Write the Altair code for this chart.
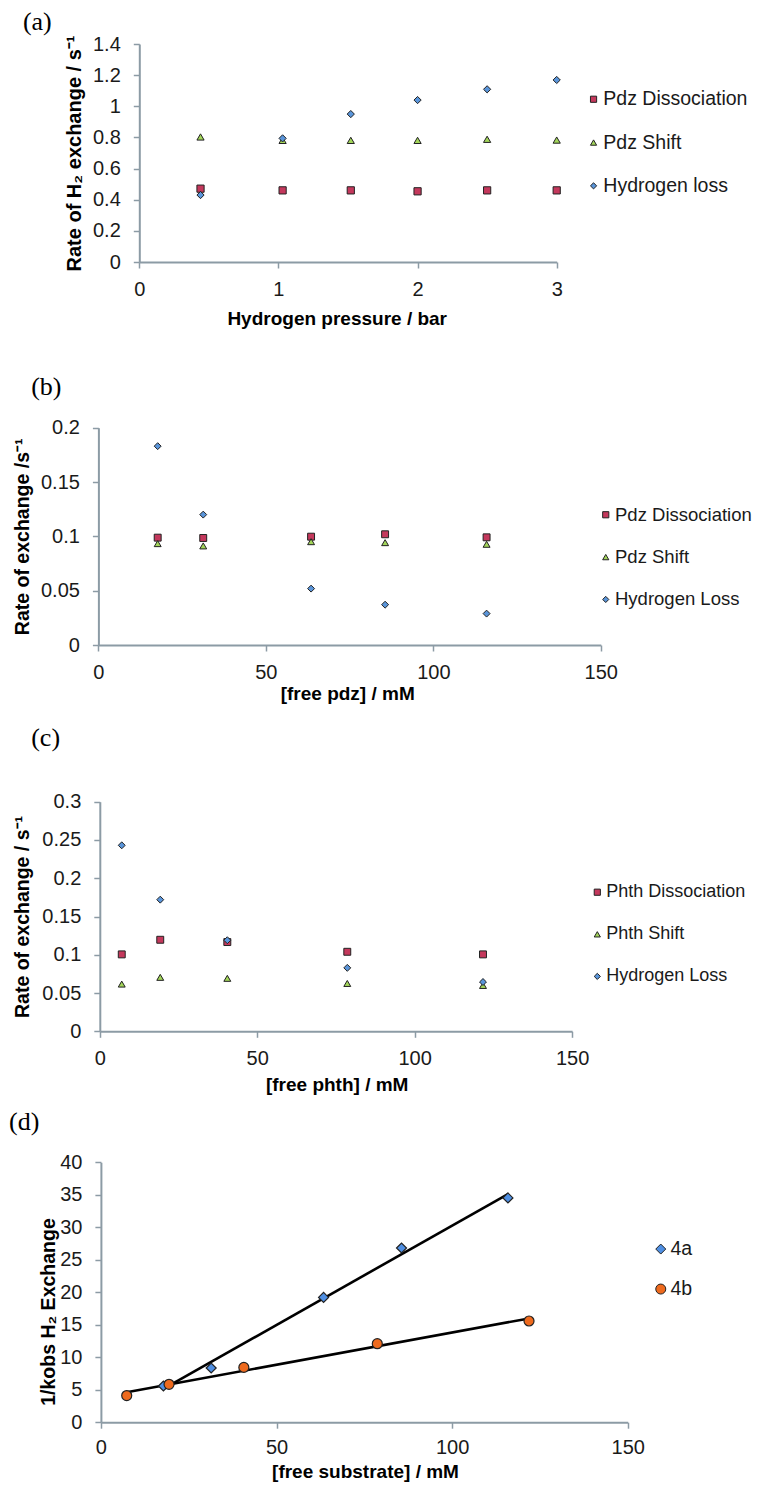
import altair as alt
import pandas as pd

# ---------------- data ----------------
# (a)
a_pressure = [0.44, 1.03, 1.52, 2.0, 2.5, 3.0]
a_dissociation = [0.471, 0.460, 0.460, 0.454, 0.460, 0.460]
a_shift = [0.803, 0.781, 0.781, 0.781, 0.788, 0.783]
a_hloss = [0.430, 0.794, 0.950, 1.040, 1.109, 1.169]
a_series = ["Pdz Dissociation", "Pdz Shift", "Hydrogen loss"]
a_yticks = [0, 0.2, 0.4, 0.6, 0.8, 1, 1.2, 1.4]
a_xticks = [0, 1, 2, 3]

# (b)
b_conc = [17.7, 31.3, 63.5, 85.6, 115.9]
b_dissociation = [0.0988, 0.0985, 0.0997, 0.1019, 0.0991]
b_shift = [0.0933, 0.0912, 0.0951, 0.0942, 0.0927]
b_hloss = [0.183, 0.120, 0.0519, 0.0371, 0.0289]
b_series = ["Pdz Dissociation", "Pdz Shift", "Hydrogen Loss"]
b_yticks = [0, 0.05, 0.1, 0.15, 0.2]
b_xticks = [0, 50, 100, 150]

# (c)
c_conc = [6.97, 19.2, 40.5, 78.6, 121.7]
c_dissociation = [0.1005, 0.1196, 0.1166, 0.1039, 0.1005]
c_shift = [0.0617, 0.0705, 0.0692, 0.0625, 0.0599]
c_hloss = [0.243, 0.172, 0.119, 0.0829, 0.0644]
c_series = ["Phth Dissociation", "Phth Shift", "Hydrogen Loss"]
c_yticks = [0, 0.05, 0.1, 0.15, 0.2, 0.25, 0.3]
c_xticks = [0, 50, 100, 150]

# (d)
d_conc_4a = [17.8, 31.4, 63.4, 85.6, 115.9]
d_inv_4a = [5.57, 8.34, 19.2, 26.8, 34.5]
d_conc_4b = [7.35, 19.4, 40.7, 78.7, 121.9]
d_inv_4b = [4.1, 5.83, 8.43, 12.08, 15.57]
d_series = ["4a", "4b"]
d_yticks = [0, 5, 10, 15, 20, 25, 30, 35, 40]
d_xticks = [0, 50, 100, 150]

# ---------------- style ----------------
FONT = "Liberation Sans, Arial, sans-serif"
SERIF = "Liberation Serif, Times New Roman, serif"
AXIS_COLOR = "#8c9ba5"
TEXT_COLOR = "#1a1a1a"
CELL_W = 730
ABC_COLORS = ["#c4385c", "#a3d65a", "#5a95da"]
ABC_SHAPES = ["square", "triangle-up", "diamond"]


def long_df(xs_list, ys_list, names):
    rows = []
    for xs, ys, name in zip(xs_list, ys_list, names):
        for x, y in zip(xs, ys):
            rows.append({"x": x, "y": y, "series": name})
    return pd.DataFrame(rows)


def axis_common(**kw):
    base = dict(
        grid=False, labelFlush=False, labelOverlap=False,
        domainColor=AXIS_COLOR, domainWidth=2, tickColor=AXIS_COLOR,
        tickWidth=1.5, tickSize=6, labelFont=FONT, labelFontSize=20,
        labelColor=TEXT_COLOR, titleFont=FONT, titleFontWeight="bold",
        titleColor="#000000",
    )
    base.update(kw)
    return alt.Axis(**base)


def panel(df, names, shapes, colors, msize, lsize, swidth, xdom, ydom,
          xticks, yticks, xfmt, yfmt, box, cell_h, xtitle, xt_pos, xlab_pad,
          ytitle, yt_pos, yt_size, label, lab_pos, leg_pos, leg_font,
          row_pad, lab_off, regression=False):
    x0, x1, y0, y1 = box
    xaxis = axis_common(values=xticks, format=xfmt, offset=-(cell_h - y1), title=xtitle,
                        titleX=xt_pos[0], titleY=xt_pos[1],
                        titleBaseline="alphabetic", titleAlign="center",
                        titleFontSize=19, labelPadding=xlab_pad)
    yargs = dict(values=yticks, format=yfmt, offset=-x0, title=ytitle, titleX=yt_pos[0],
                 titleBaseline="alphabetic", titleAlign="center",
                 titleAngle=270, titleFontSize=yt_size, labelPadding=13)
    if yt_pos[1] is not None:
        yargs["titleY"] = yt_pos[1]
    yaxis = axis_common(**yargs)
    x = alt.X("x:Q", scale=alt.Scale(domain=xdom, range=[x0, x1], nice=False, zero=False), axis=xaxis)
    y = alt.Y("y:Q", scale=alt.Scale(domain=ydom, range=[y1, y0], nice=False, zero=False), axis=yaxis)
    legend = alt.Legend(orient="none", legendX=leg_pos[0], legendY=leg_pos[1],
                        title=None, padding=0, offset=0, labelFont=FONT, labelFontSize=leg_font,
                        labelColor=TEXT_COLOR, symbolSize=lsize, labelLimit=400,
                        symbolStrokeColor="#222222", symbolStrokeWidth=1,
                        rowPadding=row_pad, labelOffset=lab_off)
    color = alt.Color("series:N", scale=alt.Scale(domain=names, range=colors), legend=legend)
    shape = alt.Shape("series:N", scale=alt.Scale(domain=names, range=shapes), legend=legend)

    layers = []
    if regression:
        line = (alt.Chart(df)
                .transform_regression("x", "y", groupby=["series"])
                .mark_line(color="#000000", strokeWidth=2.6)
                .encode(x=x, y=y, detail="series:N"))
        layers.append(line)
    pts = (alt.Chart(df)
           .mark_point(filled=True, size=msize, stroke="#222222", strokeWidth=swidth, opacity=1)
           .encode(x=x, y=y, color=color, shape=shape))
    layers.append(pts)
    txt = (alt.Chart(pd.DataFrame({"label": [label]}))
           .mark_text(align="left", baseline="top", font=SERIF, fontSize=26, color="#000000")
           .encode(x=alt.value(lab_pos[0]), y=alt.value(lab_pos[1]), text="label:N"))
    layers.append(txt)
    return alt.layer(*layers).properties(width=CELL_W, height=cell_h)


# ---------------- panels ----------------
df_a = long_df([a_pressure] * 3, [a_dissociation, a_shift, a_hloss], a_series)
pa = panel(df_a, a_series, ABC_SHAPES, ABC_COLORS, 52, 38, 1,
           [0, 3], [0, 1.4], a_xticks, a_yticks, "d", "~g",
           (130.3, 547.7, 35, 253), 352,
           "Hydrogen pressure / bar", (327.7, 62.3), 11,
           "Rate of H\u2082 exchange / s\u207b\u00b9", (-59, None), 20,
           "(a)", (13.9, 0), (574.8, 80.5), 19.5, 22.3, 0)

df_b = long_df([b_conc] * 3, [b_dissociation, b_shift, b_hloss], b_series)
pb = panel(df_b, b_series, ABC_SHAPES, ABC_COLORS, 48, 38, 1,
           [0, 150], [0, 0.2], b_xticks, b_yticks, "d", "~g",
           (89.4, 591.8, 66.7, 284), 355,
           "[free pdz] / mM", (338.2, 54.4), 11,
           "Rate of exchange /s\u207b\u00b9", (-69.6, None), 19.5,
           "(b)", (22.2, 12.5), (587.5, 144.5), 18.5, 23.35, 0)

df_c = long_df([c_conc] * 3, [c_dissociation, c_shift, c_hloss], c_series)
pc = panel(df_c, c_series, ABC_SHAPES, ABC_COLORS, 48, 38, 1,
           [0, 150], [0, 0.3], c_xticks, c_yticks, "d", "~g",
           (90.8, 563.1, 85.7, 315.3), 385,
           "[free phth] / mM", (327.7, 59.4), 11,
           "Rate of exchange / s\u207b\u00b9", (-71, None), 19.5,
           "(c)", (22.2, 9.2), (579.3, 167.2), 18, 24.1, 0)

df_d = long_df([d_conc_4a, d_conc_4b], [d_inv_4a, d_inv_4b], d_series)
pd_ = panel(df_d, d_series, ["diamond", "circle"], ["#4f8fe3", "#ee6a1e"], 100, 100, 1.2,
            [0, 150], [0, 40], d_xticks, d_yticks, "d", "d",
            (91.9, 618.7, 61.2, 321.2), 374,
            "[free substrate] / mM", (356, 55), 9,
            "1/kobs H\u2082 Exchange", (-46.2, 210.5), 19.5,
            "(d)", (0, 8.2), (642, 138.3), 19.5, 19, 0, regression=True)

chart = (alt.vconcat(pa, pb, pc, pd_, spacing=0, bounds="flush")
         .resolve_scale(x="independent", y="independent", color="independent", shape="independent")
         .resolve_legend(color="independent", shape="independent")
         .properties(padding=0, background="white")
         .configure_view(stroke="transparent"))

chart.save("out.html", embed_options={"renderer": "svg", "actions": False})
